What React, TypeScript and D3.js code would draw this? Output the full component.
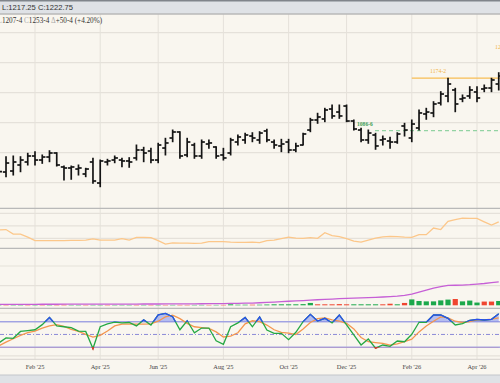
import React from "react";
import * as d3 from "d3";

// weekly bars (Monday dates)
const weeks: Date[] = d3.timeMonday.range(new Date(2024, 11, 30), new Date(2026, 4, 1));

const openP = [1029.5,1017.8,1019.5,1029.5,1034.5,1044.5,1037.8,1042.8,1049.5,1026.2,1024.5,1022.8,1014.5,1034.5,999.5,1034.5,1037.8,1037.8,1036.2,1041.2,1054.5,1052.8,1037.8,1057.8,1074.5,1084.5,1046.2,1062.8,1044.5,1064.5,1059.5,1046.2,1049.5,1067.8,1071.2,1077.8,1071.2,1086.2,1067.8,1061.2,1067.8,1054.5,1062.8,1087.8,1104.5,1106.2,1122.8,1117.8,1127.8,1102.8,1087.8,1071.2,1079.5,1071.2,1069.5,1067.8,1094.5,1074.5,1091.2,1114.5,1116.2,1132.8,1144.5,1154.5,1139.5,1144.5,1151.2,1156.2,1157.8,1164.5];
const highP = [1037.8,1043.3,1044.5,1043.3,1049,1051.7,1046.2,1053.3,1050,1027.8,1027.8,1029.5,1024,1040.7,1037.8,1039,1044.5,1040.7,1041.7,1062.8,1059,1057.3,1065.7,1074,1087.8,1085,1074,1065.7,1071.2,1071.2,1060,1057.3,1074,1079.5,1082.3,1083.3,1085,1089,1071.2,1072.3,1072.3,1065.7,1082.3,1107.3,1115.7,1124,1129.5,1129.5,1129.5,1104.5,1090.7,1087.8,1082.3,1077.8,1075.7,1083.3,1099,1104.5,1121.2,1124,1135,1151.7,1174.25,1157.3,1146.2,1160,1160,1162.8,1174,1183.3];
const lowP = [1007.8,1010,1012.8,1018.3,1029.5,1029.5,1032.3,1035,1027.8,1004.5,1005.7,1012.8,1010,999,993.3,1029.5,1033.3,1026.7,1025.7,1037.8,1035,1033.3,1033.3,1046.2,1068.3,1040.7,1043.3,1040.7,1040.7,1057.3,1040.7,1037.8,1046.2,1062.8,1065.7,1068.3,1065.7,1068.3,1057.3,1051.7,1050,1051.7,1062.8,1085,1099,1101.7,1107.3,1107.3,1101.7,1087.8,1068.3,1065.7,1055.7,1062.8,1057.3,1065.7,1077.8,1068.3,1087.8,1105.7,1110,1129.5,1135,1118.3,1135,1140.7,1135,1151.7,1151.7,1154.5];
const closeP = [1018.3,1032.8,1034.5,1037.8,1044.5,1037.8,1042.8,1049.5,1029.5,1024.5,1026.2,1024.5,1022.8,1002.8,1036.2,1036.2,1041.2,1036.2,1034.5,1054.5,1049.5,1037.8,1062.8,1066.2,1084.5,1044.5,1067.8,1044.5,1067.8,1066.2,1044.5,1041.2,1071.2,1076.2,1079.5,1074.5,1082.8,1071.2,1062.8,1064.5,1054.5,1061.2,1081.2,1104.5,1109.5,1121.2,1111.2,1111.2,1102.8,1089.5,1071.2,1082.8,1061.2,1072.8,1067.8,1081.2,1087.8,1097.8,1116.2,1117.8,1131.2,1147.8,1164.5,1131.2,1141.2,1154.5,1141.2,1157.8,1171.2,1177.8];

const volatility = [16.6,17.0,13.4,13.4,11.0,8.2,8.1,8.1,8.1,8.2,8.4,8.4,8.5,9.6,8.6,8.6,8.6,9.7,8.6,10.8,10.8,10.6,8.1,5.4,6.4,6.2,6.1,6.0,6.1,7.3,7.3,7.3,6.9,6.8,6.8,7.0,6.6,8.1,8.6,9.8,10.9,10.2,10.0,10.6,10.0,14.5,12.2,11.4,9.7,7.7,7.0,8.6,10.1,11.2,11.6,11.4,11.0,10.8,12.9,12.9,18.2,17.0,23.5,25.0,26.2,26.0,25.9,23.2,20.6,23.2];

const openInterest = [5.0,5.0,5.1,5.1,5.2,5.2,5.3,5.3,5.4,5.5,5.5,5.6,5.7,5.8,5.9,6.0,6.1,6.2,6.3,6.4,6.5,6.6,6.7,6.8,6.9,7.0,7.3,7.6,7.9,8.2,8.5,8.8,9.3,9.9,10.6,11.5,13.0,14.8,16.6,18.6,20.5,22.4,24.3,26.4,28.3,30.0,31.8,33.5,35.0,36.3,37.6,38.9,40.4,42.2,44.0,46.5,50.5,57,67,77,87,95,101,102,103,105,108,111,115,119];

const volume = [2,-2,2,2,-2,2,-2,2,-2,-3,2,2,-2,2,2,-2,2,2,2,-2,2,-2,2,-2,2,-2,-2,2,2,-2,2,-2,5,3,3,-3,3,4,5,5,5,5,6,12,-5,-5,-5,-6,-5,5,5,5,5,-5,-8,5,-12,30,22,20,20,25,29,-32,20,24,14,-19,-19,22];

const stochK = [30,42,41,57,59,61,73,90,70,68,66,58,57,17,68,75,79,77,78,70,84,72,96,99.5,91.5,61,82,54,65,65,35,27,68,77,90,68,91,60.5,52.7,52.7,37.7,55,80,97.2,81.5,87.8,76.9,95.6,72.2,48.8,25.3,39.4,18,25.3,22.3,34.7,33,50.4,78.5,78.5,95.6,95.6,87.8,72.2,75.2,83.2,85.5,83.9,85.5,98.7];
const stochD = [23,32,40,48,54,58,65,70,73,69,62,57,50,44,48,58,70,74,74,74,74,75,81,91,95,87,76,68,66,64,56,44,46,54,75,82,80,72,61,55,53,50,63,78,87,89,84,81,76,63,43,33,31,29,25,28,33,39,56,70,81,91,89,81,78,80,84,84,86,89];

const priceTicks = [1000, 1050, 1100, 1150, 1200, 1250];
const volTicks = [10, 20, 30];
const oiTicks = [100, 200];
const stochTicks = [0, 100];
const highLevel = 1174.25;
const supportLevel = 1086.75;

export default function App() {
  const W = 500, H = 383;
  const x = d3.scaleTime().domain([new Date(2025, 1, 3), new Date(2026, 3, 6)]).range([35, 477]);
  const yP = d3.scaleLinear().domain([1000, 1250]).range([182.7, 32.7]);
  const yV = d3.scaleLinear().domain([10, 30]).range([238.3, 213.3]);
  const yO = d3.scaleLinear().domain([0, 200]).range([305.3, 266]);
  const yS = d3.scaleLinear().domain([0, 100]).range([355.8, 313.1]);

  const xi = (i: number) => x(weeks[i]);
  const monthStarts = weeks.filter((d, i) => i > 0 && d.getMonth() !== weeks[i - 1].getMonth() && d.getMonth() % 2 === 1);
  const fmt = d3.timeFormat("%b '%y");

  const volLine = d3.line<number>().x((_, i) => xi(i)).y((d) => yV(d));
  const oiLine = d3.line<number>().x((_, i) => xi(i)).y((d) => yO(d));
  const kLine = d3.line<number>().x((_, i) => xi(i)).y((d) => yS(d));
  const dLine = d3.line<number>().x((_, i) => xi(i)).y((d) => yS(d));
  const kAreaHi = d3.area<number>().x((_, i) => xi(i)).y0(yS(80)).y1((d) => yS(d));
  const kAreaLo = d3.area<number>().x((_, i) => xi(i)).y0(yS(20)).y1((d) => yS(d));

  const bg = "#f9f6ef";
  const grid = "#e5e1da";
  const sep = "#b9b9b9";
  const top = 14;
  const bottom = 359.3;

  return (
    <svg width={W} height={H} style={{ position: "absolute", left: 0, top: 0, display: "block" }}>
      <defs>
        <clipPath id="above80"><rect x={0} y={300} width={W} height={yS(80) - 300} /></clipPath>
        <clipPath id="below20"><rect x={0} y={yS(20)} width={W} height={20} /></clipPath>
      </defs>
      <rect x={0} y={0} width={W} height={H} fill={bg} />
      {/* header */}
      <rect x={0} y={0} width={W} height={top} fill="#dfe2e6" />
      <line x1={0} x2={W} y1={0.8} y2={0.8} stroke="#80858b" strokeWidth={1.6} />
      <text x={2} y={10} fontFamily="Liberation Sans, Arial, sans-serif" fontSize={7.6} fill="#333">L:1217.25 C:1222.75</text>

      {/* vertical month grid */}
      {monthStarts.map((d, i) => (
        <line key={"vg" + i} x1={x(d)} x2={x(d)} y1={top} y2={bottom} stroke={grid} strokeWidth={1} />
      ))}
      {/* horizontal grids */}
      {priceTicks.map((t) => (
        <line key={"pg" + t} x1={0} x2={W} y1={yP(t)} y2={yP(t)} stroke={grid} strokeWidth={1.2} />
      ))}
      {volTicks.map((t) => (
        <line key={"vt" + t} x1={0} x2={W} y1={yV(t)} y2={yV(t)} stroke={grid} strokeWidth={1.2} />
      ))}
      {oiTicks.map((t) => (
        <line key={"ot" + t} x1={0} x2={W} y1={yO(t)} y2={yO(t)} stroke={grid} strokeWidth={1.2} />
      ))}
      {stochTicks.map((t) => (
        <line key={"st" + t} x1={0} x2={W} y1={yS(t)} y2={yS(t)} stroke={grid} strokeWidth={1.2} />
      ))}

      {/* pane separators */}
      {[top, 208.3, 248.3, 308.3].map((y, i) => (
        <line key={"sep" + i} x1={0} x2={W} y1={y} y2={y} stroke={sep} strokeWidth={1.3} />
      ))}
      <line x1={0} x2={W} y1={bottom} y2={bottom} stroke="#d6d3ce" strokeWidth={1} />

      {/* second header line */}
      <text x={-2.5} y={22.5} fontFamily="Liberation Serif, Times New Roman, serif" fontSize={7.2} fill="#333">
        <tspan fill="#aaa">L</tspan>1207-4 <tspan fill="#aaa">C</tspan>1253-4 <tspan fill="#aaa">Δ</tspan>+50-4 (+4.20%)
      </text>

      {/* levels */}
      <line x1={xi(62 - 5 + 0)} x2={W} y1={yP(highLevel)} y2={yP(highLevel)} stroke="#f7bd55" strokeWidth={1.2} />
      <text x={430} y={73} fontFamily="Liberation Serif, serif" fontSize={5.8} fill="#f2b44a">1174-2</text>
      <text x={495} y={49.3} fontFamily="Liberation Serif, serif" fontSize={5.8} fill="#f2b44a">1216-4</text>
      <line x1={375} x2={W} y1={yP(supportLevel)} y2={yP(supportLevel)} stroke="#93d3a3" strokeWidth={1.2} strokeDasharray="4,3" />
      <text x={357} y={125.7} fontFamily="Liberation Serif, serif" fontSize={5.6} fontWeight="bold" fill="#3f9e58">1086-6</text>

      {/* OHLC bars */}
      {weeks.map((d, i) => {
        const cx = xi(i);
        return (
          <g key={"b" + i} stroke="#151515" strokeWidth={1.7}>
            <line x1={cx} x2={cx} y1={yP(highP[i]) - 0.5} y2={yP(lowP[i]) + 0.5} />
            <line x1={cx - 3.2} x2={cx} y1={yP(openP[i])} y2={yP(openP[i])} />
            <line x1={cx} x2={cx + 3.2} y1={yP(closeP[i])} y2={yP(closeP[i])} />
          </g>
        );
      })}

      {/* volatility pane */}
      <path d={volLine(volatility) || ""} fill="none" stroke="#fcc78a" strokeWidth={1.3} />

      {/* volume/open interest pane */}
      {volume.map((v, i) => {
        const h = Math.abs(v);
        return (
          <rect key={"h" + i} x={xi(i) - 2.6} width={5.2} y={yO(h)} height={yO(0) - yO(h)} fill={v >= 0 ? "#1ba84b" : "#ef4530"} />
        );
      })}
      <path d={oiLine(openInterest) || ""} fill="none" stroke="#c65fd6" strokeWidth={1.3} />

      {/* stochastic pane */}
      <line x1={0} x2={W} y1={yS(80)} y2={yS(80)} stroke="#a8a8e2" strokeWidth={1.5} />
      <line x1={0} x2={W} y1={yS(20)} y2={yS(20)} stroke="#a8a8e2" strokeWidth={1.5} />
      <line x1={0} x2={W} y1={yS(50)} y2={yS(50)} stroke="#6f6fd0" strokeWidth={0.8} strokeDasharray="4,2,1,2" />
      <path d={kAreaHi(stochK) || ""} fill="#4f68f2" fillOpacity={0.4} clipPath="url(#above80)" />
      <path d={kAreaLo(stochK) || ""} fill="#f03030" fillOpacity={0.5} clipPath="url(#below20)" />
      <path d={dLine(stochD) || ""} fill="none" stroke="#f4964f" strokeWidth={1.3} />
      <path d={kLine(stochK) || ""} fill="none" stroke="#25a844" strokeWidth={1.3} />
      <path d={kLine(stochK) || ""} fill="none" stroke="#2b4cf2" strokeWidth={1.3} clipPath="url(#above80)" />
      <path d={kLine(stochK) || ""} fill="none" stroke="#f02a2a" strokeWidth={1.6} clipPath="url(#below20)" />

      {/* date axis labels */}
      {monthStarts.map((d, i) => (
        <text key={"dl" + i} x={x(d)} y={368.5} textAnchor="middle" fontFamily="Liberation Serif, Times New Roman, serif" fontSize={6.4} fill="#444">
          {fmt(d)}
        </text>
      ))}

      {/* footer */}
      <rect x={0} y={375} width={W} height={H - 375} fill="#dfe2e6" />
      <line x1={0} x2={W} y1={375} y2={375} stroke="#c3c6ca" strokeWidth={1} />
    </svg>
  );
}
